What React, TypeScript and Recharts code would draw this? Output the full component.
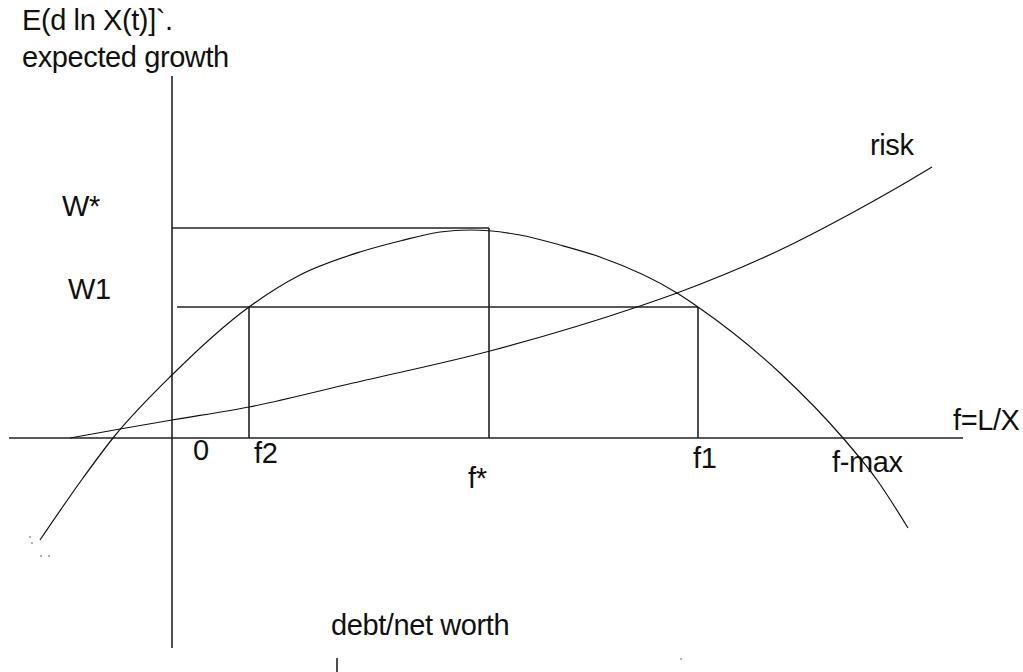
import React from 'react';
import { ComposedChart, Line, XAxis, YAxis, ReferenceLine, ReferenceDot, Customized } from 'recharts';

// leverage f = L/X (horizontal), expected growth / risk (vertical)
const growthF = [-1.32, -0.89, -0.59, 0, 0.77, 1.28, 1.88, 2.28, 2.68, 2.98, 3.48, 3.88, 4.28, 5.05, 5.26, 6.08, 6.71, 7.05, 7.36];
const growthW = [-1.02, -0.4, 0, 0.63, 1.31, 1.63, 1.86, 1.97, 2.06, 2.08, 2.03, 1.93, 1.81, 1.45, 1.31, 0.65, 0, -0.42, -0.9];

const riskF = [-1.02, -0.52, 0, 0.77, 1.81, 3.18, 4.65, 5.05, 6.08, 6.78, 7.28, 7.6];
const riskV = [0, 0.09, 0.18, 0.31, 0.55, 0.87, 1.31, 1.45, 1.88, 2.24, 2.52, 2.71];

// key levels
const F2 = 0.77;
const F_STAR = 3.17;
const F1 = 5.26;
const W_STAR = 2.1;
const W1 = 1.31;
const W1_START = 0.05;

// axis extents
const X_AXIS_FROM = -1.63;
const X_AXIS_TO = 7.91;
const Y_AXIS_TOP = 3.62;
const Y_AXIS_BOTTOM = -2.1;
const TICK_MARK_F = 1.65;
const TICK_MARK_FROM = -2.2;
const TICK_MARK_TO = -2.34;

// small stray specks in the scan
const speckF = [-1.42, -1.4, -1.31, -1.23, 5.09];
const speckV = [-0.99, -1.05, -1.18, -1.18, -2.21];

const XMIN = -1.72;
const XMAX = 8.51;
const YMIN = -2.34;
const YMAX = 4.38;

const labelTexts = [
  'E(d ln X(t)]`.',
  'expected growth',
  'W*',
  'W1',
  'risk',
  'f=L/X',
  '0',
  'f2',
  'f*',
  'f1',
  'f-max',
  'debt/net worth',
];
const labelPos: [number, number][] = [
  [22, 30],
  [22, 67],
  [62, 216],
  [68, 299],
  [870, 155],
  [953, 430],
  [193, 460],
  [254, 463],
  [468, 488],
  [693, 468],
  [832, 472],
  [331, 635],
];

const growthData = growthF.map((f, i) => ({ f, w: growthW[i] }));
const riskData = riskF.map((f, i) => ({ f, r: riskV[i] }));

const LINE = '#222';
const FONT = "'Liberation Sans', Arial, Helvetica, sans-serif";

const Labels = () => (
  <g>
    {labelTexts.map((t, i) => (
      <text
        key={i}
        x={labelPos[i][0]}
        y={labelPos[i][1]}
        fontFamily={FONT}
        fontSize={29}
        fill="#111"
        letterSpacing={-0.4}
      >
        {t}
      </text>
    ))}
  </g>
);

export default function App() {
  const seg = (x1: number, y1: number, x2: number, y2: number, key: string) => (
    <ReferenceLine
      key={key}
      segment={[{ x: x1, y: y1 }, { x: x2, y: y2 }]}
      stroke={LINE}
      strokeWidth={1.6}
      ifOverflow="visible"
    />
  );
  return (
    <div style={{ position: 'absolute', left: 0, top: 0, width: 1023, height: 672, background: '#fff' }}>
      <ComposedChart width={1023} height={672} margin={{ top: 0, right: 0, bottom: 0, left: 0 }}>
        <XAxis type="number" dataKey="f" domain={[XMIN, XMAX]} allowDataOverflow hide />
        <YAxis type="number" domain={[YMIN, YMAX]} allowDataOverflow hide />
        {seg(X_AXIS_FROM, 0, X_AXIS_TO, 0, 'xaxis')}
        {seg(0, Y_AXIS_TOP, 0, Y_AXIS_BOTTOM, 'yaxis')}
        {seg(0, W_STAR, F_STAR, W_STAR, 'wstar-h')}
        {seg(F_STAR, 0, F_STAR, W_STAR, 'wstar-v')}
        {seg(W1_START, W1, F1, W1, 'w1-h')}
        {seg(F2, 0, F2, W1, 'f2-v')}
        {seg(F1, 0, F1, W1, 'f1-v')}
        {seg(TICK_MARK_F, TICK_MARK_FROM, TICK_MARK_F, TICK_MARK_TO, 'tick')}
        <Line
          data={growthData}
          dataKey="w"
          type="monotone"
          dot={false}
          activeDot={false}
          stroke="#111"
          strokeWidth={1.2}
          isAnimationActive={false}
        />
        <Line
          data={riskData}
          dataKey="r"
          type="monotone"
          dot={false}
          activeDot={false}
          stroke="#111"
          strokeWidth={1.2}
          isAnimationActive={false}
        />
        {speckF.map((f, i) => (
          <ReferenceDot key={'s' + i} x={f} y={speckV[i]} r={0.8} fill="#555" stroke="none" ifOverflow="visible" />
        ))}
        <Customized component={Labels} />
      </ComposedChart>
    </div>
  );
}
